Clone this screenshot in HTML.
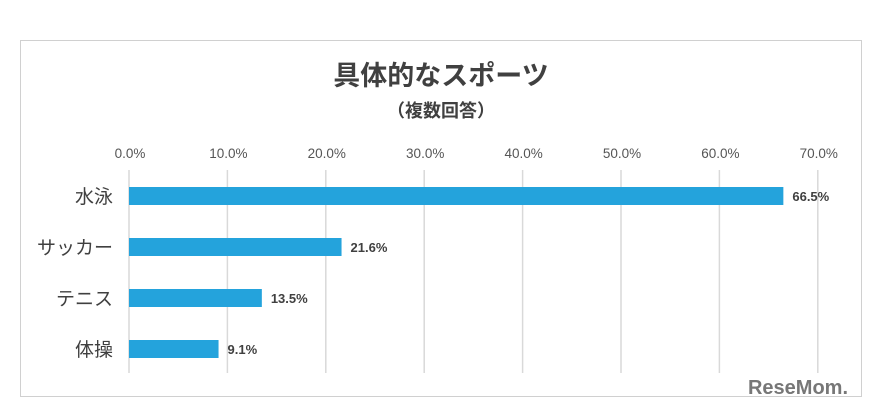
<!DOCTYPE html>
<html><head><meta charset="utf-8"><style>
body{margin:0;background:#fff;width:883px;height:415px;overflow:hidden;font-family:"Liberation Sans","Noto Sans CJK JP",sans-serif;}
</style></head><body>
<svg width="883" height="415" xmlns="http://www.w3.org/2000/svg">
<rect x="20.5" y="40.5" width="841" height="356" fill="#fff" stroke="#d0d0d0"/>
<text x="441" y="85" text-anchor="middle" font-size="27" font-weight="bold" fill="#404040" font-family="Liberation Sans,Noto Sans CJK JP,sans-serif">具体的なスポーツ</text>
<text x="441" y="117" text-anchor="middle" font-size="18" font-weight="bold" fill="#404040" font-family="Liberation Sans,Noto Sans CJK JP,sans-serif">（複数回答）</text>
<g id="g"></g>
<text x="848" y="394" text-anchor="end" font-size="20" font-weight="bold" fill="#777" font-family="Liberation Sans,sans-serif">ReseMom.</text>
</svg>
<script>
const categories=["水泳","サッカー","テニス","体操"];
const values=[66.5,21.6,13.5,9.1];
const ticks=[0,10,20,30,40,50,60,70];
const g=document.getElementById('g');
const NS="http://www.w3.org/2000/svg";
const x=v=>129+v*9.84;
const yc=i=>196+i*51;
function mk(t,a){const e=document.createElementNS(NS,t);for(const k in a)e.setAttribute(k,a[k]);g.appendChild(e);return e;}
ticks.forEach(t=>{
 const l=mk('line',{x1:x(t),x2:x(t),y1:170,y2:373,stroke:'#d9d9d9','stroke-width':1.5});
 
 
 const tx=mk('text',{x:x(t)+1,y:158,'text-anchor':'middle','font-size':13.5,fill:'#555'});
 tx.textContent=t.toFixed(1)+'%';
 
 
});
categories.forEach((c,i)=>{
 const r=mk('rect',{x:x(0),y:yc(i)-9,width:x(values[i])-x(0),height:18,fill:'#24a3dc'});
 
 
 const lb=mk('text',{x:113,y:yc(i)+7,'text-anchor':'end','font-size':19,fill:'#404040'});
 lb.textContent=c;
 
 
 const v=mk('text',{x:x(values[i])+9,y:yc(i)+5,'font-size':13,fill:'#404040','font-weight':'bold'});
 v.textContent=values[i].toFixed(1)+'%';
 
 
});
</script>
</body></html>
